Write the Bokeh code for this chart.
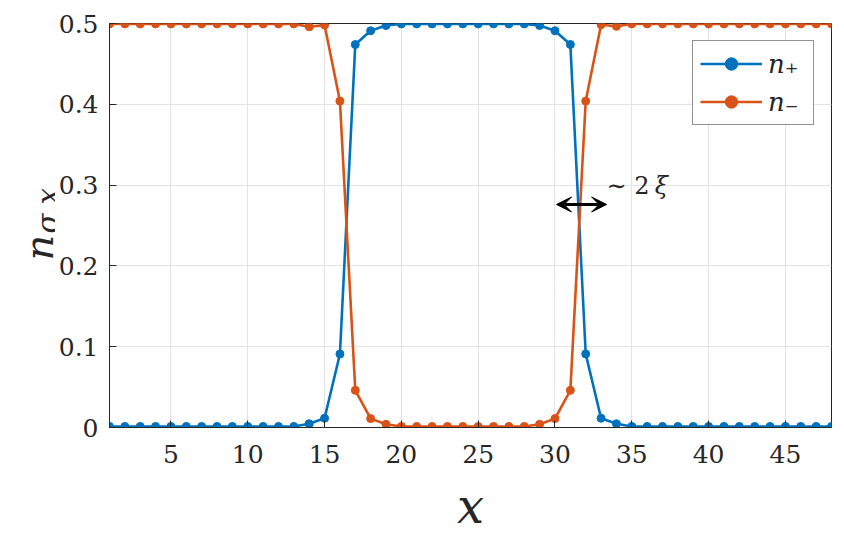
import math
from bokeh.plotting import figure
from bokeh.layouts import row
from bokeh.models import (Label, Arrow, VeeHead, FixedTicker, Legend, LegendItem, ColumnDataSource, Range1d)
from bokeh.embed import file_html
from bokeh.resources import INLINE

# ---- data ----
x_vals = list(range(1, 49))
n_plus = ([0.0013] * 13 +
          [0.0046, 0.0115, 0.091, 0.474, 0.491, 0.4975] +
          [0.4995] * 9 +
          [0.4975, 0.491, 0.474, 0.091, 0.0115, 0.0046] +
          [0.0013] * 14)
n_minus = ([0.4995] * 13 +
           [0.4960, 0.4980, 0.404, 0.046, 0.011, 0.004] +
           [0.0013] * 9 +
           [0.004, 0.011, 0.046, 0.404, 0.4985, 0.4965] +
           [0.4995] * 14)
x_ticks = [5, 10, 15, 20, 25, 30, 35, 40, 45]
y_ticks = [0, 0.1, 0.2, 0.3, 0.4, 0.5]
y_tick_labels = {0: "0", 0.1: "0.1", 0.2: "0.2", 0.3: "0.3", 0.4: "0.4", 0.5: "0.5"}
series_names = ["n\u208A", "n\u208B"]
colors = ["#0072BD", "#D95319"]
arrow_y = 0.276
arrow_x = (30.1, 33.36)

SERIF = "DejaVu Serif"
TXT = "#262626"
H = 544

p = figure(frame_width=722, frame_height=404, output_backend="svg", toolbar_location=None,
           x_range=Range1d(1, 48), y_range=Range1d(0, 0.5),
           min_border_left=53, min_border_right=12, min_border_top=23, min_border_bottom=117)
p.background_fill_color = "white"
p.border_fill_color = "white"
p.outline_line_color = TXT
p.outline_line_width = 1

for ax in (p.xaxis[0], p.yaxis[0]):
    ax.major_label_text_font = SERIF
    ax.major_label_text_font_size = "25px"
    ax.major_label_text_color = TXT
    ax.major_tick_in = 7
    ax.major_tick_out = 0
    ax.minor_tick_in = 0
    ax.minor_tick_out = 0
    ax.axis_line_color = TXT
    ax.major_tick_line_color = TXT
p.xaxis[0].ticker = FixedTicker(ticks=x_ticks)
p.yaxis[0].ticker = FixedTicker(ticks=y_ticks)
p.yaxis[0].major_label_overrides = y_tick_labels
p.xaxis[0].major_label_standoff = 17
p.yaxis[0].major_label_standoff = 11
p.xaxis[0].axis_label = "x"
p.xaxis[0].axis_label_text_font = SERIF
p.xaxis[0].axis_label_text_font_style = "italic"
p.xaxis[0].axis_label_text_font_size = "48px"
p.xaxis[0].axis_label_text_color = TXT
p.xaxis[0].axis_label_standoff = 12

p.xgrid.ticker = FixedTicker(ticks=x_ticks)
p.ygrid.ticker = FixedTicker(ticks=y_ticks)
p.xgrid.grid_line_color = "#e3e3e3"
p.ygrid.grid_line_color = "#e3e3e3"

items = []
for name, ys, c in zip(series_names, [n_plus, n_minus], colors):
    src = ColumnDataSource(dict(x=x_vals, y=ys))
    r1 = p.line("x", "y", source=src, line_color=c, line_width=2.6)
    r2 = p.scatter("x", "y", source=src, size=8, fill_color=c, line_color=c)
    items.append(LegendItem(label=name, renderers=[r1, r2]))

legend = Legend(items=items, location="top_right",
                label_text_font=SERIF, label_text_font_style="italic",
                label_text_font_size="26px", label_text_color=TXT,
                glyph_width=62, glyph_height=31, label_height=31, label_width=38, spacing=7,
                padding=7, margin=17, label_standoff=6,
                border_line_color=TXT, border_line_width=1,
                background_fill_color="white", background_fill_alpha=1)
p.add_layout(legend, "center")

# arrow and annotation
p.add_layout(Arrow(start=VeeHead(size=15, fill_color="black", line_color="black"),
                   end=VeeHead(size=15, fill_color="black", line_color="black"),
                   x_start=arrow_x[0], y_start=arrow_y, x_end=arrow_x[1], y_end=arrow_y,
                   line_width=3, line_color="black"))
p.add_layout(Label(x=33.36, y=0.281, text="\u223C 2", text_font=SERIF,
                   text_font_size="24px", text_color=TXT))
p.add_layout(Label(x=36.5, y=0.281, text="\u03BE", text_font=SERIF, text_font_style="italic",
                   text_font_size="24px", text_color=TXT))

# y-axis label panel (n_{sigma,x}): a narrow figure on the left whose frame is
# aligned with the main frame (page y 23..427), so its y range is in page pixels.
lab = figure(width=55, height=H, output_backend="svg", toolbar_location=None,
             x_range=Range1d(0, 55), y_range=Range1d(427, 23),
             x_axis_type=None, y_axis_type=None, min_border=0)
lab.outline_line_color = None
lab.grid.visible = False
lab.background_fill_color = "white"
lab.border_fill_color = "white"
lab.add_layout(Label(x=38, y=260, text="n", angle=math.pi / 2, text_font=SERIF,
                     text_font_style="italic", text_font_size="40px", text_align="left",
                     text_baseline="alphabetic", text_color=TXT))
lab.add_layout(Label(x=47, y=233, text="\u03C3,x", angle=math.pi / 2, text_font=SERIF,
                     text_font_style="italic", text_font_size="29px", text_align="left",
                     text_baseline="alphabetic", text_color=TXT))

layout = row(lab, p, spacing=0)
open("out.html", "w").write(file_html(layout, INLINE))
